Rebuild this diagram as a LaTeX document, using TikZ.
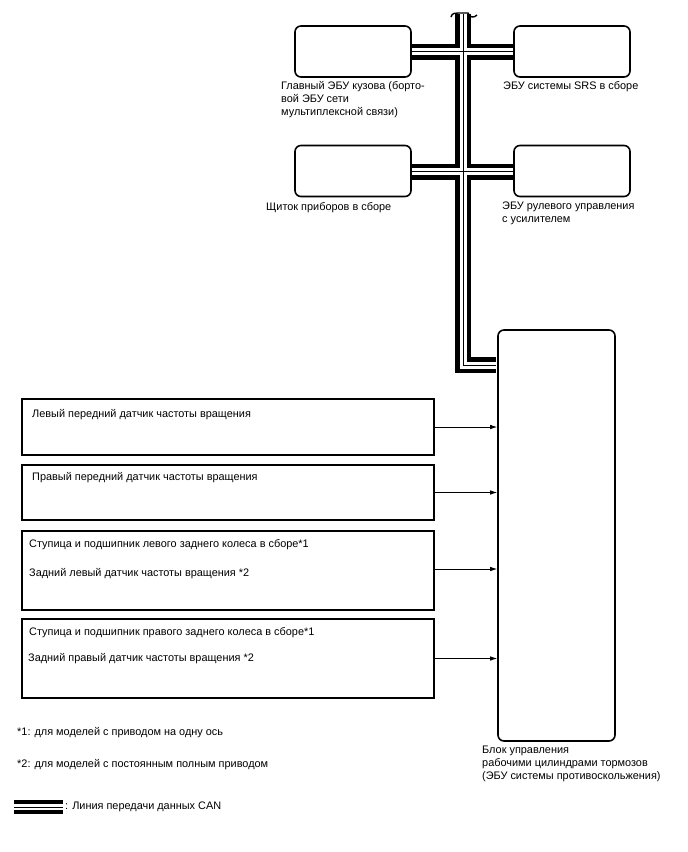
\documentclass[tikz,border=0pt]{standalone}
\usepackage{fontspec}
\setmainfont{Liberation Sans}
\usetikzlibrary{arrows.meta}
\begin{document}
\begin{tikzpicture}[x=1pt,y=-1pt,
  every node/.style={font=\fontsize{10.9}{13}\selectfont, inner sep=0pt},
  ecu/.style={draw, line width=1.6pt, rounded corners=6pt, minimum width=116pt, minimum height=51pt},
  sensor/.style={draw, line width=1.6pt, minimum width=412pt},
  lbl/.style={anchor=west, align=left},
  busA/.style={line width=16pt, black},
  busB/.style={line width=7pt, white},
  busC/.style={line width=1pt, black},
  sig/.style={line width=0.8pt, -{Latex[length=7pt,width=4.5pt]}}
]
\useasboundingbox (0,0) rectangle (688,852);
% ECUs
\node[ecu] (gbu) at (353,51.5) {};
\node[ecu] (srs) at (572,51.5) {};
\node[ecu] (meter) at (353,171) {};
\node[ecu] (eps) at (572,171) {};
\node[draw, line width=1.6pt, rounded corners=6pt, minimum width=117pt, minimum height=411pt] (abs) at (556.5,535.5) {};
% labels
\node[lbl, anchor=north west] (tgbu) at (281,81) {Главный ЭБУ кузова (борто-\\вой ЭБУ сети\\мультиплексной связи)};
\node[lbl] (tsrs) at (503,87) {ЭБУ системы SRS в сборе};
\node[lbl] (tmeter) at (266,208) {Щиток приборов в сборе};
\node[lbl, anchor=north west] (teps) at (502,202) {ЭБУ рулевого управления\\с усилителем};
\node[lbl, anchor=north west] (tabs) at (482,746) {Блок управления\\рабочими цилиндрами тормозов\\(ЭБУ системы противоскольжения)};
% sensors
\node[sensor, minimum height=56pt] (s1) at (228,427) {};
\node[sensor, minimum height=55pt] (s2) at (228,492.5) {};
\node[sensor, minimum height=79pt] (s3) at (228,570.5) {};
\node[sensor, minimum height=79pt] (s4) at (228,658.5) {};
\node[lbl] (t1) at (32,415) {Левый передний датчик частоты вращения};
\node[lbl] (t2) at (32,478) {Правый передний датчик частоты вращения};
\node[lbl] (t3a) at (29,545) {Ступица и подшипник левого заднего колеса в сборе*1};
\node[lbl] (t3b) at (29,574) {Задний левый датчик частоты вращения *2};
\node[lbl] (t4a) at (29,633) {Ступица и подшипник правого заднего колеса в сборе*1};
\node[lbl] (t4b) at (28,659) {Задний правый датчик частоты вращения *2};
% arrows
\draw[sig] (s1.east) -- (s1.east -| abs.west);
\draw[sig] (s2.east) -- (s2.east -| abs.west);
\draw[sig] ([yshift=1.5pt]s3.east) -- ([yshift=1.5pt]s3.east -| abs.west);
\draw[sig] (s4.east) -- (s4.east -| abs.west);
% CAN bus
\coordinate (bustop) at (463,14);
\coordinate (buscorner) at (463,365);
\coordinate (busend) at (abs.west |- buscorner);
\foreach \st in {busA,busB,busC}{
  \draw[\st] (bustop) -- (buscorner) -- ([xshift=-0.8pt]busend);
  \draw[\st] (gbu.east) -- (srs.west);
  \draw[\st] ([yshift=-0.5pt]meter.east) -- ([yshift=-0.5pt]eps.west);
}
% break mark
\draw[line width=1.4pt] (451,17) .. controls (452,13) and (455,13) .. (458,13) -- (468,13) .. controls (470,18) and (474,18) .. (477,15);
% notes
\node[lbl] (n1) at (17,733) {*1: для моделей с приводом на одну ось};
\node[lbl] (n2) at (17,765) {*2: для моделей с постоянным полным приводом};
\coordinate (lg1) at (14,807);
\coordinate (lg2) at (63,807);
\draw[line width=14pt] (lg1) -- (lg2);
\draw[line width=5.5pt, white] (lg1) -- (lg2);
\draw[line width=1pt] (lg1) -- (lg2);
\node[lbl] (nlg) at (65,807) {: Линия передачи данных CAN};
\end{tikzpicture}
\end{document}
